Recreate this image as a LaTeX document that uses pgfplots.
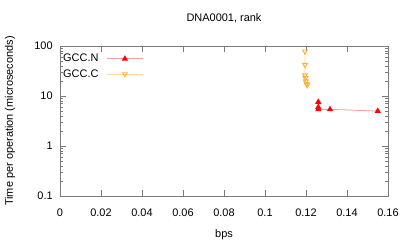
\documentclass[border=0pt]{standalone}
\usepackage{fontspec}
\setmainfont{Liberation Sans}
\usepackage{pgfplots}
\pgfplotsset{compat=1.18}
\definecolor{cN}{HTML}{FF0000}
\definecolor{cNl}{HTML}{FF9A9A}
\definecolor{cC}{HTML}{FFB030}
\definecolor{cCl}{HTML}{FFD890}
\definecolor{bord}{HTML}{7A7A7A}
\begin{document}
\fontsize{11}{13}\selectfont
\begin{tikzpicture}
\useasboundingbox (-60bp,-48bp) rectangle (347bp,196bp);
\begin{axis}[
  at={(0,0)}, anchor=south west,
  scale only axis, width=328bp, height=150bp,
  xmin=0, xmax=0.16, ymode=log, ymin=0.1, ymax=100,
  xtick={0,0.02,0.04,0.06,0.08,0.1,0.12,0.14,0.16},
  xticklabels={0,0.02,0.04,0.06,0.08,0.1,0.12,0.14,0.16},
  ytick={0.1,1,10,100}, yticklabels={0.1,1,10,100},
  tick align=inside, minor x tick num=0,
  major tick length=6bp, minor tick length=3bp,
  axis line style={bord, line width=0.8bp},
  every tick/.style={bord, line width=0.6bp},
  xticklabel style={yshift=-8.5bp},
  yticklabel style={xshift=-3.5bp},
  title={DNA0001, rank},
  title style={at={(axis description cs:0.5,1.148)}, anchor=center},
  xlabel={bps},
  xlabel style={at={(axis description cs:0.5,-0.26)}, anchor=center},
  ylabel={Time per operation (microseconds)},
  ylabel style={at={(axis description cs:-0.1524,0.5)}, anchor=center},
  legend style={draw=none, fill=none, at={(axis description cs:0,1)}, anchor=north west,
    xshift=-2bp, yshift=-4bp, row sep=2bp, column sep=6bp, font=\fontsize{11}{13}\selectfont},
  legend cell align=left,
  legend plot pos=right,
  legend image code/.code={\draw[mark repeat=2,mark phase=2] plot coordinates {(0bp,0bp)(18bp,0bp)(36bp,0bp)};},
]
\addplot[color=cNl, line width=0.8bp, mark=triangle*, mark size=2.8bp,
  mark options={draw=cN, fill=cN}]
  coordinates {(0.126,7.6)(0.126,6.0)(0.126,5.4)(0.1317,5.4)(0.155,5.0)};
\addlegendentry{GCC.N}
\addplot[color=cCl, line width=0.8bp, mark=triangle, mark size=2.8bp,
  mark options={draw=cC, rotate=180, line width=0.9bp}]
  coordinates {(0.1195,78)(0.1195,42)(0.1195,26)(0.1197,23)(0.1199,19.7)(0.1203,17.5)(0.1206,16.5)};
\addlegendentry{GCC.C}
\end{axis}
\end{tikzpicture}
\end{document}
